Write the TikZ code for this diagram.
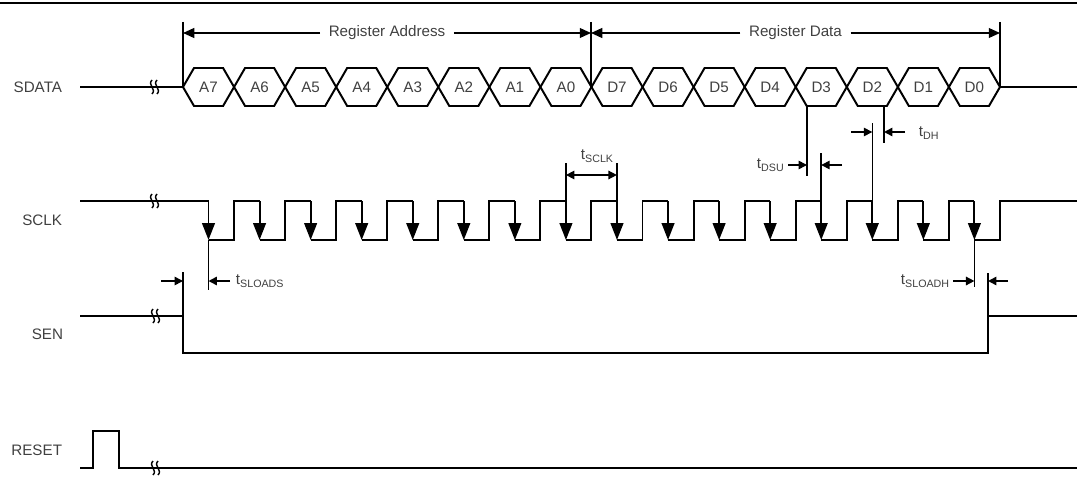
\documentclass[tikz,border=0pt]{standalone}
\usepackage{fontspec}
\setmainfont{Liberation Sans}
\usetikzlibrary{arrows.meta}
\def\brk(#1,#2){\draw[line width=1pt] ({#1-4},{#2-7}) .. controls ({#1-9},{#2-2}) and ({#1+1},{#2+2}) .. ({#1-4},{#2+7});
	\draw[line width=1pt] ({#1+1},{#2-7}) .. controls ({#1-4},{#2-2}) and ({#1+6},{#2+2}) .. ({#1+1},{#2+7});}
\newcommand{\tsub}[1]{t\raisebox{-2.8pt}{\fontsize{7.6}{9}\selectfont #1}}

\begin{document}
\begin{tikzpicture}[x=0.025cm, y=-0.025cm,
	sig/.style={line width=1.4pt},
	guide/.style={line width=1.1pt},
	dimarr/.style={line width=1.1pt, -{Triangle[length=6pt,width=6pt]}},
	regarr/.style={line width=1.1pt, -{Triangle[length=8pt,width=7pt]}},
	edgearr/.style={line width=1.4pt, -{Triangle[length=12pt,width=9pt]}},
	lbl/.style={text=black!75, font=\fontsize{10.8}{12}\selectfont}]
		%%%%% START %%%%%
		\useasboundingbox (0,0) rectangle (1077,479);
		\draw[line width=2pt] (0,3) -- (1077,3);
		
		% signal names
		\node[lbl, anchor=east] (sdata) at (67,87) {SDATA};
		\node[lbl, anchor=east] (sclk) at (67,220) {SCLK};
		\node[lbl, anchor=east] (sen) at (68,334) {SEN};
		\node[lbl, anchor=east] (reset) at (67,450) {RESET};
		
		% register address / data
		\coordinate (addr0) at (183,33);
		\coordinate (addr1) at (591,33);
		\coordinate (data1) at (1000,33);
		\node[lbl, inner xsep=6pt] (regaddr) at (387,33) {Register Address};
		\node[lbl, inner xsep=6pt] (regdata) at (795.5,33) {Register Data};
		\draw[regarr] (regaddr) -- (addr0);
		\draw[regarr] (regaddr) -- (addr1);
		\draw[regarr] (regdata) -- (addr1);
		\draw[regarr] (regdata) -- (data1);
		\draw[guide] (183,22) -- (183,87);
		\draw[guide] (591,22) -- (591,87);
		\draw[guide] (1000,22) -- (1000,87);
		
		% SDATA
		\draw[sig] (80,87) -- (183,87);
		\draw[sig] (1000,87) -- (1077,87);
		\brk(156,87);
		\foreach \bit [count=\i from 0] in {A7,A6,A5,A4,A3,A2,A1,A0,D7,D6,D5,D4,D3,D2,D1,D0} {
			\pgfmathsetmacro\xl{183+51.06*\i}
			\pgfmathsetmacro\xr{\xl+51.06}
			\draw[sig] (\xl,87) -- ({\xl+11},68) -- ({\xr-11},68) -- (\xr,87) -- ({\xr-11},106) -- ({\xl+11},106) -- cycle;
			\node[lbl] (c\bit) at ({\xl+25.5},87) {\bit};
		}
		
		% SCLK
		\draw[sig] (80,201) -- (208.5,201);
		\brk(156,201);
		\foreach \k in {0,...,15} {
			\pgfmathsetmacro\f{208.5+51.06*\k}
			\draw[sig] (\f,240) -- ({\f+25.5},240) -- ({\f+25.5},201) -- ({\f+51.06},201);
			\draw[edgearr] (\f,201) -- (\f,240);
		}
		\draw[sig] (1020,201) -- (1077,201);
		
		% t_SCLK
		\draw[guide] (565.9,163) -- (565.9,201);
		\draw[guide] (616.9,163) -- (616.9,201);
		\draw[line width=1.1pt, {Triangle[length=6pt,width=6pt]}-{Triangle[length=6pt,width=6pt]}] (565.9,175) -- (616.9,175);
		\node[lbl, anchor=base west] (tsclk) at (576,159) {\tsub{SCLK}};
		
		% t_DSU
		\draw[guide] (807,106) -- (807,176);
		\draw[guide] (821.2,153) -- (821.2,201);
		\draw[dimarr] (788,165) -- (807,165);
		\draw[dimarr] (842,165) -- (821.2,165);
		\node[lbl, anchor=base west] (tdsu) at (752,168) {\tsub{DSU}};
		
		% t_DH
		\draw[guide] (872.3,123) -- (872.3,201);
		\draw[guide] (884,106) -- (884,143);
		\draw[dimarr] (851,132) -- (872.3,132);
		\draw[dimarr] (905,132) -- (884,132);
		\node[lbl, anchor=base west] (tdh) at (914,136) {\tsub{DH}};
		
		% SEN
		\draw[sig] (80,316) -- (183,316) -- (183,353) -- (988,353) -- (988,316) -- (1077,316);
		\brk(157,316);
		\draw[guide] (183,272) -- (183,316);
		\draw[guide] (988,273) -- (988,316);
		
		% t_SLOADS / t_SLOADH
		\draw[guide] (208.5,240) -- (208.5,290);
		\draw[guide] (974.4,240) -- (974.4,287);
		\draw[dimarr] (161,281) -- (183,281);
		\draw[dimarr] (230,281) -- (208.5,281);
		\node[lbl, anchor=base west] (tsloads) at (231,284) {\tsub{SLOADS}};
		\draw[dimarr] (953,281) -- (974.4,281);
		\draw[dimarr] (1008,281) -- (988,281);
		\node[lbl, anchor=base west] (tsloadh) at (896,284) {\tsub{SLOADH}};
		
		% RESET
		\draw[sig] (80,468) -- (93,468) -- (93,431) -- (119,431) -- (119,468) -- (1077,468);
		\brk(157,468);
		%%%%% END %%%%%
\end{tikzpicture}
\end{document}
